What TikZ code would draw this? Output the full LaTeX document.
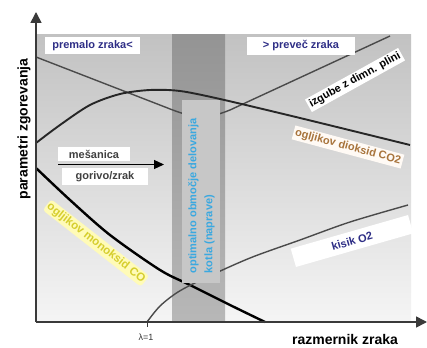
\documentclass[tikz,border=0pt]{standalone}
\usepackage{fontspec}
\setmainfont{Liberation Sans}
\usetikzlibrary{arrows.meta}
\definecolor{lblblue}{HTML}{2E2E86}
\definecolor{cotwo}{HTML}{A8743C}
\definecolor{coyel}{HTML}{D6CE2E}
\definecolor{bandtxt}{HTML}{3AA8E0}
\definecolor{axisgray}{HTML}{3A3A3A}
\definecolor{curvegray}{HTML}{4A4A4A}
\tikzset{
  lbl/.style={fill=white, inner sep=2pt},
  thincurve/.style={draw=curvegray, line width=1.4pt},
  axisline/.style={draw=axisgray, line width=1.6pt, -{Triangle[length=11pt,width=11pt]}},
  big/.style={font=\bfseries\fontsize{14}{16}\selectfont},
}
\begin{document}
\begin{tikzpicture}[x=1pt,y=-1pt,font=\bfseries\fontsize{11}{13}\selectfont]
\useasboundingbox (0,0) rectangle (427,347);
\fill[white] (0,0) rectangle (427,347);
% background plot area
\shade[top color=black!24, bottom color=black!4] (36,35) rectangle (411,322);
% optimal band
\shade[top color=black!42, bottom color=black!28] (172,35) rectangle (225,322);
% curves
\draw[thincurve] (36,57) -- (165,107) .. controls (195,119) and (205,120) .. (230,110) -- (390,36);
\draw[draw=black!85, line width=1.9pt] plot[smooth] coordinates {(36,143) (60,125) (90,105) (120,94) (150,90) (180,91) (220,99) (300,118) (410,145)};
\draw[draw=black, line width=2.4pt] plot[smooth] coordinates {(36,168) (70,200) (110,235) (160,270) (190,285) (230,305) (265,322)};
\draw[thincurve] plot[smooth] coordinates {(147,322) (160,306) (178,292) (203,279) (250,258) (300,240) (350,222) (408,205)};
% inner band
\fill[black!22] (182,100) rectangle (220,283);
\node[rotate=90, align=left, text=bandtxt, font=\bfseries\fontsize{11}{16}\selectfont] (opt) at (201.5,196) {optimalno območje delovanja\\kotla (naprave)};
% axes
\coordinate (O) at (36,322);
\coordinate (ytip) at (36,12);
\coordinate (xtip) at (427,322);
\coordinate (lam) at (147,322);
\coordinate (lamb) at (147,327);
\draw[axisline] (O) -- (ytip);
\draw[axisline] (O) -- (xtip);
\draw[axisgray, line width=0.6pt] (lam) -- (lamb);
% labels
\node[lbl, text=lblblue, minimum width=95pt, minimum height=17pt] (premalo) at (92.5,46) {premalo zraka<};
\node[lbl, text=lblblue, minimum width=108pt, minimum height=18pt] (prevec) at (301,46) {> preveč zraka};
\node[lbl, rotate=29, text=black] (izgube) at (355,80) {izgube z dimn. plini};
\node[lbl, rotate=-15, text=cotwo, fill=white!96!orange] (co2) at (348,147) {ogljikov dioksid CO2};
\node[lbl, rotate=16, text=lblblue, minimum width=122pt, minimum height=19pt] (o2) at (352,241) {kisik O2};
\node[rotate=-38, text=coyel, fill=yellow!28!white, inner sep=1.5pt, rounded corners=3pt, font=\bfseries\fontsize{11.5}{13}\selectfont] (co) at (96,243) {ogljikov monoksid CO};
\node[lbl, text=black!75, minimum width=72pt, minimum height=14pt, inner sep=0pt] (mes) at (94,154) {mešanica};
\node[lbl, text=black!75, minimum width=86pt, minimum height=17pt, inner sep=0pt] (gor) at (105,176.5) {gorivo/zrak};
\coordinate (mixL) at (58,164.5);
\coordinate (mixR) at (164,164.5);
\draw[black, line width=1.2pt, -{Triangle[length=10pt,width=9pt]}] (mixL) -- (mixR);
\node[big, rotate=90] (ylab) at (24,129) {parametri zgorevanja};
\node[big] (xlab) at (345,339) {razmernik zraka};
\node[font=\fontsize{9}{10}\selectfont, text=black!80] (lamlab) at (146,337) {λ=1};
\end{tikzpicture}
\end{document}
